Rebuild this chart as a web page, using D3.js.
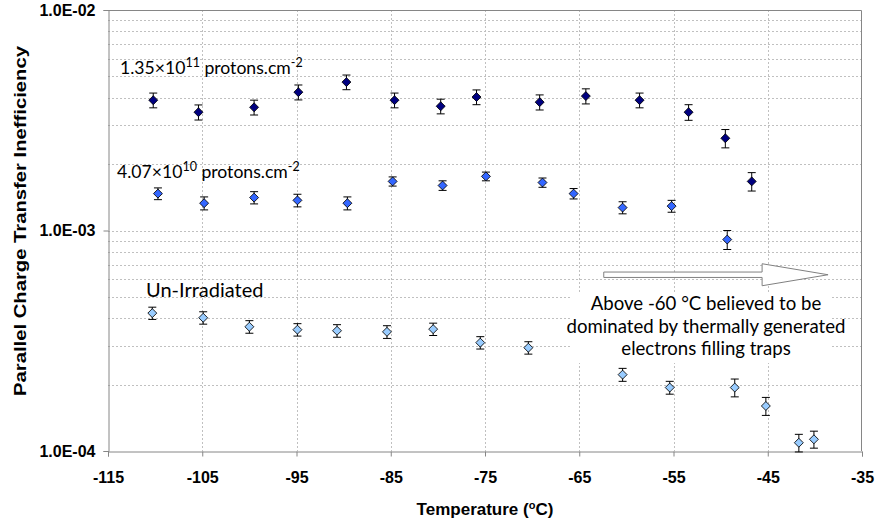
<!DOCTYPE html>
<html>
<head>
<meta charset="utf-8">
<script src="https://cdn.jsdelivr.net/npm/d3@7"></script>
<style>
  body { margin: 0; background: #fff; }
  svg { display: block; }
</style>
</head>
<body>
<svg id="chart" width="877" height="526"></svg>
<script>
// --- data ---
// 1.35e11 protons/cm2
const tempHigh = [-110.2, -105.4, -99.5, -94.8, -89.7, -84.6, -79.7, -75.9, -69.2, -64.3, -58.6, -53.4, -49.5, -46.7];
const ctiHigh  = [3.90e-3, 3.44e-3, 3.62e-3, 4.24e-3, 4.71e-3, 3.90e-3, 3.66e-3, 4.03e-3, 3.82e-3, 4.07e-3, 3.90e-3, 3.44e-3, 2.62e-3, 1.67e-3];
const errHigh  = [0.30e-3, 0.27e-3, 0.28e-3, 0.33e-3, 0.36e-3, 0.30e-3, 0.28e-3, 0.31e-3, 0.30e-3, 0.32e-3, 0.30e-3, 0.28e-3, 0.25e-3, 0.16e-3];

// 4.07e10 protons/cm2
const tempMid = [-109.7, -104.8, -99.5, -94.9, -89.6, -84.8, -79.5, -74.9, -68.9, -65.6, -60.4, -55.2, -49.3];
const ctiMid  = [1.47e-3, 1.33e-3, 1.41e-3, 1.37e-3, 1.33e-3, 1.67e-3, 1.60e-3, 1.76e-3, 1.65e-3, 1.47e-3, 1.27e-3, 1.29e-3, 0.91e-3];
const errMid  = [0.09e-3, 0.09e-3, 0.09e-3, 0.09e-3, 0.09e-3, 0.08e-3, 0.08e-3, 0.08e-3, 0.08e-3, 0.08e-3, 0.08e-3, 0.08e-3, 0.09e-3];

// un-irradiated
const tempLow = [-110.3, -104.9, -100.0, -94.9, -90.7, -85.4, -80.5, -75.5, -70.4, -60.4, -55.4, -48.5, -45.2, -41.7, -40.1];
const ctiLow  = [4.22e-4, 4.02e-4, 3.66e-4, 3.55e-4, 3.51e-4, 3.47e-4, 3.57e-4, 3.10e-4, 2.94e-4, 2.22e-4, 1.94e-4, 1.94e-4, 1.60e-4, 1.09e-4, 1.13e-4];
const errLow  = [0.27e-4, 0.26e-4, 0.24e-4, 0.23e-4, 0.23e-4, 0.23e-4, 0.23e-4, 0.20e-4, 0.19e-4, 0.15e-4, 0.13e-4, 0.18e-4, 0.15e-4, 0.10e-4, 0.10e-4];

const xTicks = [-115, -105, -95, -85, -75, -65, -55, -45, -35];
const yTicks = [1e-4, 1e-3, 1e-2];
const yTickLabels = ["1.0E-04", "1.0E-03", "1.0E-02"];

const svg = d3.select("#chart");
const width = +svg.attr("width");
const height = +svg.attr("height");
const margin = { top: 10, right: 15, bottom: 75, left: 108 };

const x = d3.scaleLinear().domain([-115, -35]).range([margin.left, width - margin.right]);
const y = d3.scaleLog().domain([1e-4, 1e-2]).range([height - margin.bottom, margin.top]);

const axisFont = "'Liberation Sans', Arial, sans-serif";
const noteFont = "Lato, 'Open Sans', sans-serif";
const gridColor = "#c0c0c0";
const axisColor = "#868686";

// horizontal grid (all log ticks 1..9 per decade)
svg.append("g")
  .selectAll("line")
  .data(y.ticks().filter(v => v > 1e-4 && v < 1e-2))
  .enter()
  .append("line")
  .attr("x1", margin.left)
  .attr("x2", width - margin.right)
  .attr("y1", d => Math.round(y(d)) + 0.5)
  .attr("y2", d => Math.round(y(d)) + 0.5)
  .attr("stroke", gridColor)
  .attr("stroke-dasharray", "2,2");

// vertical grid
svg.append("g")
  .selectAll("line")
  .data(xTicks.slice(1, -1))
  .enter()
  .append("line")
  .attr("x1", d => Math.round(x(d)) + 0.5)
  .attr("x2", d => Math.round(x(d)) + 0.5)
  .attr("y1", margin.top)
  .attr("y2", height - margin.bottom)
  .attr("stroke", gridColor)
  .attr("stroke-dasharray", "2,2");

// plot border (top and right)
svg.append("path")
  .attr("d", `M${margin.left},${margin.top + 0.5}H${width - margin.right - 0.5}V${height - margin.bottom}`)
  .attr("fill", "none")
  .attr("stroke", axisColor);

// x axis
const xAxis = svg.append("g")
  .attr("transform", `translate(0,${height - margin.bottom + 0.5})`)
  .call(d3.axisBottom(x).tickValues(xTicks).tickSize(5).tickPadding(15).tickFormat(d => d));
xAxis.select(".domain").attr("stroke", axisColor);
xAxis.selectAll(".tick line").attr("stroke", axisColor);
xAxis.selectAll("text")
  .attr("fill", "#000")
  .style("font-family", axisFont)
  .style("font-size", "16px")
  .style("font-weight", "bold");

// y axis
const yAxis = svg.append("g")
  .attr("transform", `translate(${margin.left + 0.5},0)`)
  .call(d3.axisLeft(y).tickValues(yTicks).tickSize(5).tickPadding(8)
    .tickFormat((d, i) => yTickLabels[i]));
yAxis.select(".domain").attr("stroke", axisColor);
yAxis.selectAll(".tick line").attr("stroke", axisColor);
yAxis.selectAll("text")
  .attr("fill", "#000")
  .style("font-family", axisFont)
  .style("font-size", "16px")
  .style("font-weight", "bold");

// axis titles
const xTitle = svg.append("text")
  .attr("x", (margin.left + width - margin.right) / 2)
  .attr("y", 515)
  .attr("text-anchor", "middle")
  .style("font-family", axisFont)
  .style("font-size", "17px")
  .style("font-weight", "bold");
xTitle.append("tspan").text("Temperature (");
xTitle.append("tspan").attr("dy", -6).style("font-size", "11px").text("o");
xTitle.append("tspan").attr("dy", 6).text("C)");

svg.append("text")
  .attr("transform", "translate(26,221) rotate(-90)")
  .attr("text-anchor", "middle")
  .attr("textLength", 350)
  .attr("lengthAdjust", "spacingAndGlyphs")
  .style("font-family", axisFont)
  .style("font-size", "17px")
  .style("font-weight", "bold")
  .text("Parallel Charge Transfer Inefficiency");

// annotation box + arrow
svg.append("rect")
  .attr("x", 570).attr("y", 293)
  .attr("width", 262).attr("height", 70)
  .attr("fill", "#fff");

const arrowY = y(6.3e-4);
const ax0 = x(-62.4), ax1 = x(-45.6), ax2 = x(-38.6);
svg.append("path")
  .attr("d", `M${ax0},${arrowY - 2.7}H${ax1}V${arrowY - 11}L${ax2},${arrowY}L${ax1},${arrowY + 11}V${arrowY + 2.7}H${ax0}Z`)
  .attr("fill", "#fff")
  .attr("stroke", "#808080")
  .attr("stroke-width", 1);

const noteLines = ["Above -60 \u00B0C believed to be", "dominated by thermally generated", "electrons filling traps"];
svg.append("g")
  .selectAll("text")
  .data(noteLines)
  .enter()
  .append("text")
  .attr("x", 706)
  .attr("y", (d, i) => 310 + i * 22.5)
  .attr("text-anchor", "middle")
  .style("font-family", noteFont)
  .style("font-size", "18.6px")
  .attr("fill", "#000")
  .text(d => d);

// series labels
function fluenceLabel(px, py, mant, exp) {
  const t = svg.append("text")
    .attr("x", px).attr("y", py)
    .style("font-family", noteFont)
    .style("font-size", "17.6px")
    .attr("fill", "#000");
  t.append("tspan").text(mant + "\u00D710");
  t.append("tspan").attr("dy", -7).style("font-size", "12.5px").text(exp);
  t.append("tspan").attr("dy", 7).text(" protons.cm");
  t.append("tspan").attr("dy", -7).style("font-size", "12.5px").text("-2");
}
fluenceLabel(120, 74, "1.35", "11");
fluenceLabel(117, 178, "4.07", "10");
svg.append("text")
  .attr("x", 146).attr("y", 297)
  .style("font-family", noteFont)
  .style("font-size", "20px")
  .text("Un-Irradiated");

// series points with error bars
const series = [
  { t: tempHigh, v: ctiHigh, e: errHigh, fill: "#000080" },
  { t: tempMid,  v: ctiMid,  e: errMid,  fill: "#3366ff" },
  { t: tempLow,  v: ctiLow,  e: errLow,  fill: "#99ccff" }
];

const diamond = d3.symbol().type(d3.symbolSquare).size(40);

series.forEach(s => {
  const pts = s.t.map((t, i) => ({ t, v: s.v[i], e: s.e[i] }));
  const g = svg.append("g");

  const bars = g.selectAll("g.err")
    .data(pts)
    .enter()
    .append("g")
    .attr("class", "err")
    .attr("stroke", "#000")
    .attr("stroke-width", 1);
  bars.append("line")
    .attr("x1", d => x(d.t)).attr("x2", d => x(d.t))
    .attr("y1", d => y(d.v + d.e)).attr("y2", d => y(d.v - d.e));
  bars.append("line")
    .attr("x1", d => x(d.t) - 4).attr("x2", d => x(d.t) + 4)
    .attr("y1", d => y(d.v + d.e)).attr("y2", d => y(d.v + d.e));
  bars.append("line")
    .attr("x1", d => x(d.t) - 4).attr("x2", d => x(d.t) + 4)
    .attr("y1", d => y(d.v - d.e)).attr("y2", d => y(d.v - d.e));

  g.selectAll("path")
    .data(pts)
    .enter()
    .append("path")
    .attr("d", diamond)
    .attr("transform", d => `translate(${x(d.t)},${y(d.v)}) rotate(45)`)
    .attr("fill", s.fill)
    .attr("stroke", "#000")
    .attr("stroke-width", 0.8);
});
</script>
</body>
</html>
